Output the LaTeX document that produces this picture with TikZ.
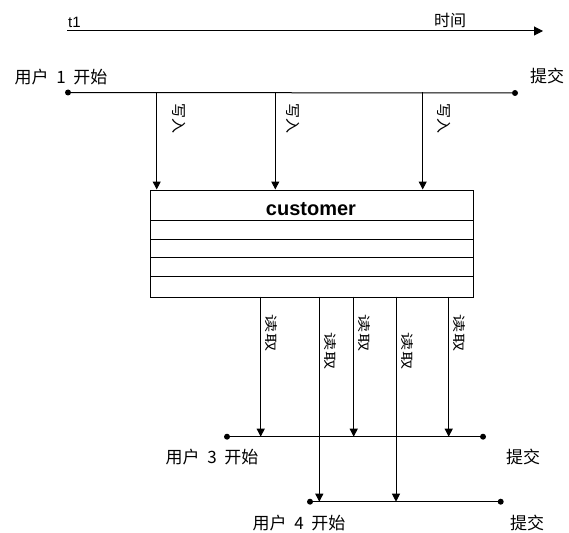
\documentclass[tikz,border=0pt]{standalone}
\usepackage{fontspec}
\setmainfont{Noto Sans CJK SC}
\newfontfamily\lat{Liberation Sans}
\usetikzlibrary{arrows.meta}
\tikzset{
  ln/.style={line width=1pt, black},
  arr/.style={ln, -{Triangle[width=8pt,length=8pt]}},
  dotn/.style={circle, fill=black, inner sep=0pt, minimum size=6pt},
  lbl/.style={inner sep=0pt, font=\fontsize{17}{17}\selectfont},
  wlbl/.style={inner sep=0pt, rotate=-90, font=\fontsize{15}{15}\selectfont},
  rlbl/.style={inner sep=0pt, rotate=-90, font=\fontsize{14}{14}\selectfont},
}
\newcommand\gp{\hspace{0.45em}}
\begin{document}
\begin{tikzpicture}[x=1pt,y=-1pt]
\useasboundingbox (0,0) rectangle (569,532);
% time axis
\coordinate (t0) at (67,31);
\coordinate (t1e) at (543,31);
\draw[ln, -{Triangle[width=9pt,length=9pt]}] (t0) -- (t1e);
\node[inner sep=0pt, font=\lat\fontsize{15}{15}\selectfont] (tl) at (74.5,22) {t1};
\node[inner sep=0pt, font=\fontsize{16}{16}\selectfont] (time) at (450,20) {时间};
% user 1
\node[dotn] (u1a) at (68,92.5) {};
\node[dotn] (u1b) at (515,93) {};
\draw[ln] (u1a) -- (u1b);
\node[lbl] (u1t) at (61,77) {用户\gp 1\gp 开始};
\node[lbl] (u1c) at (547,76) {提交};
% table box
\node[draw, line width=1pt, minimum width=322.7pt, minimum height=107.2pt, inner sep=0pt, anchor=north west] (box) at (150,189.5) {};
\node[inner sep=0pt, font=\lat\bfseries\fontsize{20}{20}\selectfont] (title) at (311,209) {customer};
\foreach \yy in {220,239.3,257.7,276.7}
  \draw[ln] (box.west |- 0,\yy) -- (box.east |- 0,\yy);
% writes
\foreach \xx/\nm in {156.7/wa,275.3/wb,422.7/wc}{
  \coordinate (\nm s) at (\xx,92.5);
  \coordinate (\nm e) at (\xx,189.5);
  \draw[arr] (\nm s) -- (\nm e);
}
\node[wlbl] (w1) at (179,118) {写入};
\node[wlbl] (w2) at (293,118) {写入};
\node[wlbl] (w3) at (444,118) {写入};
% user 3
\node[dotn] (u3a) at (227,436.7) {};
\node[dotn] (u3b) at (483,436.7) {};
\draw[ln] (u3a) -- (u3b);
\node[lbl] (u3t) at (212,457) {用户\gp 3\gp 开始};
\node[lbl] (u3c) at (523,457) {提交};
% user 4
\node[dotn] (u4a) at (310,501.7) {};
\node[dotn] (u4b) at (500.7,501.7) {};
\draw[ln] (u4a) -- (u4b);
\node[lbl] (u4t) at (299,523) {用户\gp 4\gp 开始};
\node[lbl] (u4c) at (527,523) {提交};
% reads
\foreach \xx/\yy/\nm in {260.7/436.7/ra,319.3/501.7/rb,353.7/436.7/rc,396/501.7/rd,448.7/436.7/re}{
  \coordinate (\nm s) at (\xx,296.7);
  \coordinate (\nm e) at (\xx,\yy);
  \draw[arr] (\nm s) -- (\nm e);
}
\node[rlbl] (r1) at (271.7,333) {\scalebox{1.3}[0.92]{读取}};
\node[rlbl] (r2) at (330.3,351) {\scalebox{1.3}[0.92]{读取}};
\node[rlbl] (r3) at (364.7,333) {\scalebox{1.3}[0.92]{读取}};
\node[rlbl] (r4) at (407,351) {\scalebox{1.3}[0.92]{读取}};
\node[rlbl] (r5) at (459.7,333) {\scalebox{1.3}[0.92]{读取}};
\end{tikzpicture}
\end{document}
